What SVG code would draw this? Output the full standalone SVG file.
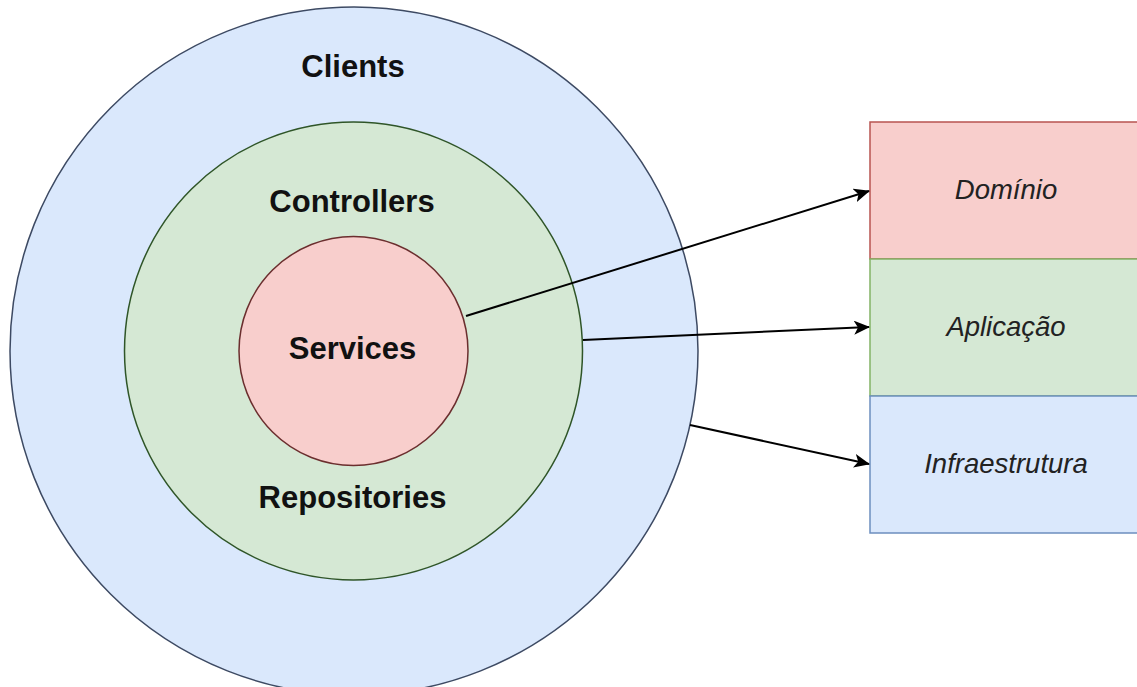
<svg xmlns="http://www.w3.org/2000/svg" width="1137" height="687" viewBox="0 0 1137 687">
  <style>
    .ring-label { font-family: "Liberation Sans", Arial, sans-serif; font-weight: bold; font-size: 31px; fill: #111; text-anchor: middle; }
    .layer-label { font-family: "Liberation Sans", Arial, sans-serif; font-style: italic; font-size: 27.5px; fill: #222; text-anchor: middle; }
    .edge { fill: none; stroke: #000; stroke-width: 2; marker-end: url(#arrow); }
  </style>
  <defs>
    <marker id="arrow" viewBox="0 0 16 14" refX="15" refY="7" markerWidth="16" markerHeight="14" markerUnits="userSpaceOnUse" orient="auto">
      <path d="M0,0 L16,7 L0,14 L4,7 Z" fill="#000"/>
    </marker>
  </defs>
  <rect width="1137" height="687" fill="#fff"/>

  <!-- concentric rings -->
  <g id="clients">
    <circle cx="354" cy="351" r="344" fill="#dae8fc" stroke="#3d4a63" stroke-width="1.5"/>
    <text class="ring-label" x="353" y="77">Clients</text>
  </g>
  <g id="controllers">
    <circle cx="353.5" cy="351" r="229" fill="#d5e8d4" stroke="#2f5528" stroke-width="1.5"/>
    <text class="ring-label" x="352" y="212">Controllers</text>
    <text class="ring-label" x="352.5" y="508">Repositories</text>
  </g>
  <g id="services">
    <circle cx="353.5" cy="351" r="114.5" fill="#f8cecc" stroke="#6b2e2e" stroke-width="1.5"/>
    <text class="ring-label" x="352.5" y="359">Services</text>
  </g>

  <!-- layer stack -->
  <g id="dominio">
    <rect x="870" y="122" width="280" height="137" fill="#f8cecc" stroke="#b85450" stroke-width="1.5"/>
    <text class="layer-label" x="1006" y="199">Domínio</text>
  </g>
  <g id="aplicacao">
    <rect x="870" y="259" width="280" height="137" fill="#d5e8d4" stroke="#82b366" stroke-width="1.5"/>
    <text class="layer-label" x="1006" y="336">Aplicação</text>
  </g>
  <g id="infraestrutura">
    <rect x="870" y="396" width="280" height="137" fill="#dae8fc" stroke="#6c8ebf" stroke-width="1.5"/>
    <text class="layer-label" x="1006" y="473">Infraestrutura</text>
  </g>

  <!-- connectors -->
  <g id="connectors">
    <line class="edge" x1="466" y1="316" x2="869" y2="191"/>
    <line class="edge" x1="583" y1="340" x2="869" y2="327"/>
    <line class="edge" x1="690" y1="425" x2="869" y2="464"/>
  </g>
</svg>
